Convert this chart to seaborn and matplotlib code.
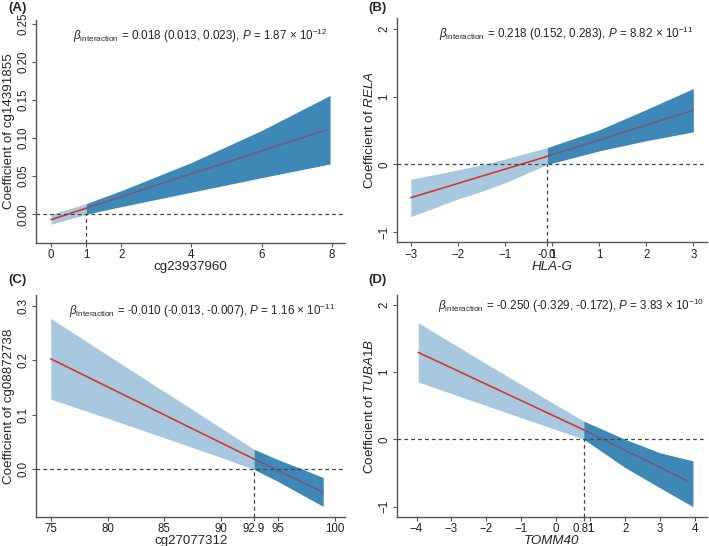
import matplotlib
matplotlib.use("Agg")
import matplotlib.pyplot as plt
import seaborn as sns

# ---- panel A ----
a_light_x = [0, 1]
a_light_lo = [-0.013, 0.0]
a_light_hi = [0.0, 0.014]
a_dark_x = [1, 2, 4, 6, 7.95]
a_dark_lo = [0.0, 0.010, 0.029, 0.048, 0.066]
a_dark_hi = [0.014, 0.031, 0.068, 0.110, 0.156]
a_line_x = [0, 1, 7.85]
a_line_y = [-0.007, 0.008, 0.111]

# ---- panel B ----
b_light_x = [-3, -2, -1.47, -1, -0.1]
b_light_lo = [-0.77, -0.51, -0.39, -0.27, 0.0]
b_light_hi = [-0.22, -0.08, 0.0, 0.08, 0.25]
b_dark_x = [-0.1, 1, 2, 3]
b_dark_lo = [0.0, 0.20, 0.35, 0.48]
b_dark_hi = [0.25, 0.51, 0.81, 1.12]
b_line_x = [-3, -0.1, 3]
b_line_y = [-0.49, 0.12, 0.80]

# ---- panel C ----
c_light_x = [75, 80, 85, 90, 92.9]
c_light_lo = [0.129, 0.094, 0.058, 0.022, 0.0]
c_light_hi = [0.277, 0.210, 0.143, 0.076, 0.037]
c_dark_x = [92.9, 95, 97, 99]
c_dark_lo = [0.0, -0.022, -0.045, -0.068]
c_dark_hi = [0.037, 0.018, 0.002, -0.015]
c_line_x = [75, 92.9, 99]
c_line_y = [0.203, 0.019, -0.042]

# ---- panel D ----
d_light_x = [-3.95, -1.6, 0.81]
d_light_lo = [0.85, 0.43, 0.0]
d_light_hi = [1.73, 1.0, 0.27]
d_dark_x = [0.81, 2, 3, 3.95]
d_dark_lo = [0.0, -0.42, -0.72, -1.0]
d_dark_hi = [0.27, 0.0, -0.20, -0.32]
d_line_x = [-3.95, 0.81, 3.8]
d_line_y = [1.29, 0.14, -0.62]

LIGHT = "#a7c8de"
DARK = "#3e88b8"
RED = "#d23c2a"
GREY = "#555555"

sns.set_style("ticks")
plt.rcParams["font.family"] = ["Liberation Sans", "DejaVu Sans"]
plt.rcParams["mathtext.fontset"] = "custom"
plt.rcParams["mathtext.rm"] = "Liberation Sans"
plt.rcParams["mathtext.it"] = "Liberation Sans:italic"
plt.rcParams["mathtext.bf"] = "Liberation Sans:bold"

fig = plt.figure(figsize=(7.09, 5.46), dpi=100)

panels = [
    dict(pos=[0.0508, 0.5545, 0.436, 0.409], tag="(A)", tagxy=(0.012, 0.997),
         light=(a_light_x, a_light_lo, a_light_hi), dark=(a_dark_x, a_dark_lo, a_dark_hi),
         line=(a_line_x, a_line_y), thr=1,
         xlim=(-0.43, 8.38), ylim=(-0.038, 0.255),
         xticks=[0, 1, 2, 4, 6, 8], xlabels=["0", "1", "2", "4", "6", "8"],
         yticks=[0, 0.05, 0.10, 0.15, 0.20, 0.25],
         ylabels=["0.00", "0.05", "0.10", "0.15", "0.20", "0.25"],
         xlab="cg23937960", xstyle="normal", ylab="Coefficient of cg14391855",
         note=r"$\it{\beta}_{\mathrm{interaction}}$ = 0.018 (0.013, 0.023), $\it{P}$ = 1.87 × 10$^{-12}$",
         notexy=(0.53, 0.93)),
    dict(pos=[0.5595, 0.556, 0.437, 0.411], tag="(B)", tagxy=(0.519, 0.997),
         light=(b_light_x, b_light_lo, b_light_hi), dark=(b_dark_x, b_dark_lo, b_dark_hi),
         line=(b_line_x, b_line_y), thr=-0.1,
         xlim=(-3.3, 3.28), ylim=(-1.15, 2.16),
         xticks=[-3, -2, -1, -0.1, 0, 1, 2, 3],
         xlabels=["\u22123", "\u22122", "\u22121", "-0.1", "0", "1", "2", "3"],
         yticks=[-1, 0, 1, 2], ylabels=["\u22121", "0", "1", "2"],
         xlab="HLA-G", xstyle="italic", ylab=r"Coefficient of $\it{RELA}$",
         note=r"$\it{\beta}_{\mathrm{interaction}}$ = 0.218 (0.152, 0.283), $\it{P}$ = 8.82 × 10$^{-11}$",
         notexy=(0.546, 0.93)),
    dict(pos=[0.0508, 0.0535, 0.436, 0.406], tag="(C)", tagxy=(0.012, 0.499),
         light=(c_light_x, c_light_lo, c_light_hi), dark=(c_dark_x, c_dark_lo, c_dark_hi),
         line=(c_line_x, c_line_y), thr=92.9,
         xlim=(73.7, 100.93), ylim=(-0.087, 0.32),
         xticks=[75, 80, 85, 90, 92.9, 95, 100],
         xlabels=["75", "80", "85", "90", "92.9", "95", "100"],
         yticks=[0, 0.1, 0.2, 0.3], ylabels=["0.0", "0.1", "0.2", "0.3"],
         xlab="cg27077312", xstyle="normal", ylab="Coefficient of cg08872738",
         note=r"$\it{\beta}_{\mathrm{interaction}}$ = -0.010 (-0.013, -0.007), $\it{P}$ = 1.16 × 10$^{-11}$",
         notexy=(0.537, 0.93)),
    dict(pos=[0.5595, 0.0535, 0.437, 0.406], tag="(D)", tagxy=(0.519, 0.499),
         light=(d_light_x, d_light_lo, d_light_hi), dark=(d_dark_x, d_dark_lo, d_dark_hi),
         line=(d_line_x, d_line_y), thr=0.81,
         xlim=(-4.57, 4.34), ylim=(-1.15, 2.14),
         xticks=[-4, -3, -2, -1, 0, 0.81, 1, 2, 3, 4],
         xlabels=["\u22124", "\u22123", "\u22122", "\u22121", "0", "0.81", "1", "2", "3", "4"],
         yticks=[-1, 0, 1, 2], ylabels=["\u22121", "0", "1", "2"],
         xlab="TOMM40", xstyle="italic", ylab=r"Coefficient of $\it{TUBA1B}$",
         note=r"$\it{\beta}_{\mathrm{interaction}}$ = -0.250 (-0.329, -0.172), $\it{P}$ = 3.83 × 10$^{-10}$",
         notexy=(0.563, 0.95)),
]

for p in panels:
    ax = fig.add_axes(p["pos"])
    lx, llo, lhi = p["light"]
    dx, dlo, dhi = p["dark"]
    ax.fill_between(lx, llo, lhi, color=LIGHT, linewidth=0, zorder=1)
    ax.fill_between(dx, dlo, dhi, color=DARK, linewidth=0, zorder=1)

    # line: solid red over the light band, muted where it sits on the dark band
    xs, ys = p["line"]
    sns.lineplot(x=xs[:2], y=ys[:2], ax=ax, color=RED, linewidth=1.2, zorder=3)
    sns.lineplot(x=xs[1:], y=ys[1:], ax=ax, color="#a0304a", linewidth=1.2, alpha=0.5, zorder=3)

    ax.axhline(0, color="#444444", linestyle=(0, (3, 2.5)), linewidth=0.9, zorder=4)
    ax.plot([p["thr"], p["thr"]], [p["ylim"][0], 0], color="#444444",
            linestyle=(0, (3, 2.5)), linewidth=0.9, zorder=4)

    ax.set_xlim(*p["xlim"])
    ax.set_ylim(*p["ylim"])
    ax.set_xticks(p["xticks"])
    ax.set_xticklabels(p["xlabels"], fontsize=8.3)
    ax.set_yticks(p["yticks"])
    ax.set_yticklabels(p["ylabels"], fontsize=8.3, rotation=90, va="center")
    ax.set_xlabel(p["xlab"], fontsize=9.6, labelpad=0, style=p["xstyle"])
    ax.set_ylabel(p["ylab"], fontsize=9.6, labelpad=2)
    ax.tick_params(colors=GREY, labelcolor="#222222", length=3, width=0.8, pad=1.5)
    sns.despine(ax=ax)
    for s in ["left", "bottom"]:
        ax.spines[s].set_color(GREY)
        ax.spines[s].set_linewidth(1.0)

    ax.text(p["notexy"][0], p["notexy"][1], p["note"], transform=ax.transAxes,
            ha="center", va="center", fontsize=8.4)
    fig.text(p["tagxy"][0], p["tagxy"][1], p["tag"], ha="left", va="top",
             fontsize=9.5, fontweight="bold")

fig.savefig("out.png", dpi=100)
